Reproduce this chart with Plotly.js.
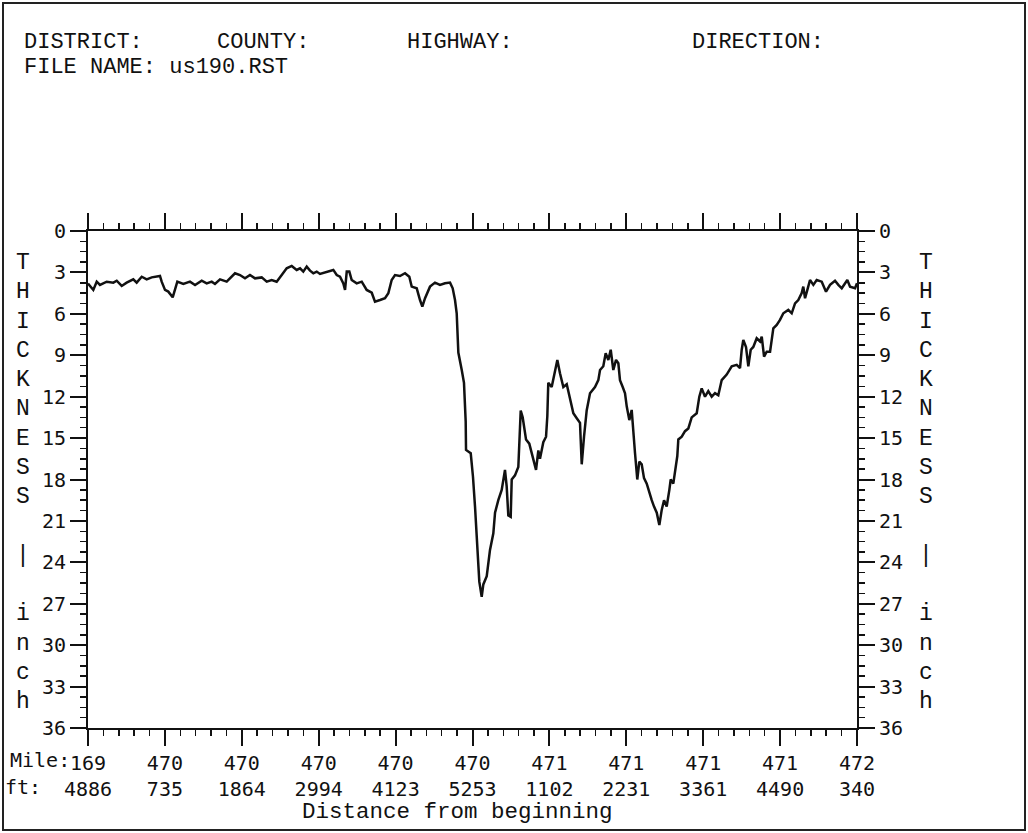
<!DOCTYPE html>
<html>
<head>
<meta charset="utf-8">
<script src="https://cdn.plot.ly/plotly-3.0.1.min.js"></script>
<style>
  html, body { margin:0; padding:0; background:#fff; }
  #chart { width:1028px; height:833px; }
</style>
</head>
<body>
<div id="chart"></div>
<script>
// ---- data ----
// distance from the beginning of the section, ft
const distanceFt = [
  0,78,128,176,275,372,422,495,568,665,
  715,789,862,936,1057,1082,1131,1179,1244,1278,
  1312,1400,1498,1572,1670,1743,1817,1865,1939,2037,
  2111,2159,2232,2306,2379,2453,2551,2625,2698,2771,
  2845,2918,2992,3065,3114,3162,3212,3261,3309,3359,
  3407,3506,3603,3653,3701,3750,3775,3800,3838,3873,
  3946,4020,4093,4167,4215,4289,4362,4411,4460,4509,
  4582,4656,4719,4754,4828,4876,4910,4950,5023,5096,
  5170,5243,5317,5356,5390,5415,5439,5489,5522,5547,
  5552,5621,5654,5684,5718,5747,5782,5806,5856,5904,
  5953,5978,6026,6076,6124,6149,6173,6208,6223,6271,
  6320,6345,6355,6384,6433,6481,6540,6580,6614,6638,
  6687,6727,6746,6760,6810,6834,6859,6893,6932,6981,
  7031,7079,7128,7178,7226,7236,7251,7285,7324,7373,
  7446,7495,7520,7568,7603,7642,7677,7715,7755,7789,
  7813,7853,7887,7912,7950,7985,8009,8034,8067,8097,
  8132,8166,8206,8244,8279,8313,8353,8391,8426,8460,
  8499,8538,8558,8596,8621,8655,8670,8720,8768,8817,
  8866,8940,8978,9013,9062,9110,9160,9209,9257,9307,
  9380,9454,9527,9576,9601,9624,9664,9698,9733,9771,
  9821,9870,9895,9929,9968,10017,10041,10065,10115,10163,
  10212,10285,10335,10384,10432,10482,10505,10531,10565,10604,
  10653,10702,10776,10839,10898,10971,11020,11070,11152,11192,
  11265,11294
];
// layer thickness, inch
const thicknessIn = [
  3.8,4.27,3.67,3.91,3.67,3.74,3.6,3.98,3.74,3.5,
  3.74,3.31,3.5,3.36,3.26,3.67,4.27,4.39,4.8,4.27,
  3.67,3.84,3.67,3.91,3.6,3.79,3.67,3.84,3.5,3.67,
  3.31,3.06,3.19,3.43,3.19,3.43,3.36,3.67,3.55,3.67,
  3.19,2.7,2.53,2.82,2.7,2.94,2.58,2.87,3.06,2.94,
  3.11,2.94,2.82,3.19,3.31,3.79,4.27,2.94,2.94,3.55,
  3.79,3.67,4.27,4.47,5.12,5.0,4.87,4.51,3.55,3.19,
  3.26,3.06,3.31,4.03,4.15,5.0,5.48,4.87,4.03,3.74,
  3.91,3.79,3.74,4.15,5.0,5.96,8.8,10.07,11.0,13.8,
  15.86,16.1,17.8,19.96,22.6,25.4,26.5,25.6,25.0,23.1,
  21.9,20.4,19.5,18.75,17.3,18.5,20.6,20.7,18.0,17.7,
  17.1,14.65,13.0,13.5,15.1,15.4,16.6,17.3,15.9,16.5,
  15.3,14.9,13.4,11.0,11.3,10.8,10.07,9.34,10.3,11.3,
  11.1,12.2,13.2,13.56,13.9,15.1,16.9,14.9,13.0,11.75,
  11.3,10.8,10.07,9.8,8.86,9.34,8.6,10.07,9.34,9.58,
  10.8,11.3,11.75,12.7,13.7,12.96,14.9,16.1,18.0,16.7,
  16.9,17.9,18.3,19.0,19.5,19.96,20.4,21.3,20.2,19.5,
  19.96,18.75,18.0,18.3,17.3,16.3,15.1,14.9,14.5,14.3,
  13.5,13.2,12.0,11.4,12.0,11.6,12.0,11.75,11.9,10.8,
  10.4,9.8,9.7,9.94,8.6,7.9,8.4,9.8,8.6,8.4,
  7.77,8.0,7.65,9.1,8.74,8.74,7.9,7.05,6.8,6.44,
  5.96,5.72,5.96,5.24,5.0,4.5,4.03,4.87,4.27,3.55,
  3.9,3.55,3.67,4.4,3.9,3.6,3.9,4.15,3.55,4.03,
  4.15,3.79
];
// x tick labels (two rows: mile, ft)
const mileLabels = ["169","470","470","470","470","470","471","471","471","471","472"];
const ftLabels   = ["4886","735","1864","2994","4123","5253","1102","2231","3361","4490","340"];
const tickSpacingFt = 1129.4;
const headerTexts = ["DISTRICT:", "COUNTY:", "HIGHWAY:", "DIRECTION:"];
const fileLine = "FILE NAME: us190.RST";
const yTitleLetters = ["T","H","I","C","K","N","E","S","S","","|","","i","n","c","h"];
const xTitle = "Distance from beginning";

// ---- geometry helpers (pixel -> paper) ----
const PL = 88, PR = 857, PT = 231, PB = 728;
const px = x => (x - PL) / (PR - PL);
const py = y => (PB - y) / (PB - PT);

const tickvals = mileLabels.map((_, i) => i * tickSpacingFt);
const ticktext = mileLabels.map((m, i) => m + "<br>" + ftLabels[i]);

const serif = "Liberation Mono, Courier New, monospace";
const mono = "DejaVu Sans Mono, monospace";

const annotations = [];
const headerX = [22, 215, 405, 690];
headerTexts.forEach((t, i) => annotations.push({
  xref:"paper", yref:"paper", x:px(headerX[i]), y:py(42), xanchor:"left", yanchor:"middle",
  text:t, showarrow:false, font:{family:serif, size:22, color:"#111"}
}));
annotations.push({xref:"paper", yref:"paper", x:px(22), y:py(68), xanchor:"left", yanchor:"middle",
  text:fileLine, showarrow:false, font:{family:serif, size:22, color:"#111"}});
yTitleLetters.forEach((L, i) => {
  if (!L) return;
  const yy = py(263 + i * 29.27);
  [22.5, 926].forEach(xx => annotations.push({
    xref:"paper", yref:"paper", x:px(xx), y:yy, xanchor:"center", yanchor:"middle",
    text:L, showarrow:false, font:{family:serif, size:23, color:"#111"}
  }));
});
annotations.push({xref:"paper", yref:"paper", x:px(72), y:py(760), xanchor:"right", yanchor:"middle",
  text:"Mile:", showarrow:false, font:{family:mono, size:20, color:"#111"}});
annotations.push({xref:"paper", yref:"paper", x:px(3), y:py(787), xanchor:"left", yanchor:"middle",
  text:"ft:", showarrow:false, font:{family:mono, size:20, color:"#111"}});
annotations.push({xref:"paper", yref:"paper", x:px(457), y:py(812), xanchor:"center", yanchor:"middle",
  text:xTitle, showarrow:false, font:{family:serif, size:22.5, color:"#111"}});

const yAxisCommon = {
  range:[36, 0], tick0:0, dtick:3, ticks:"outside", ticklen:16, tickwidth:2, tickcolor:"#111",
  showline:true, linewidth:2, linecolor:"#111", showgrid:false, zeroline:false,
  tickfont:{family:mono, size:20, color:"#111"}, fixedrange:true,
  minor:{tick0:0, dtick:0.75, ticks:"outside", ticklen:6, tickwidth:1.5, tickcolor:"#111", showgrid:false}
};

const traces = [
  {x:distanceFt, y:thicknessIn, type:"scatter", mode:"lines",
   line:{color:"#111", width:2.5}, hoverinfo:"skip"},
  {x:[0], y:[0], yaxis:"y2", type:"scatter", mode:"markers",
   marker:{opacity:0}, hoverinfo:"skip"}
];

const layout = {
  width:1028, height:833,
  margin:{l:PL, r:1028-PR, t:PT, b:833-PB, pad:0},
  paper_bgcolor:"#fff", plot_bgcolor:"#fff",
  showlegend:false,
  font:{family:mono, size:20, color:"#111"},
  xaxis:{
    range:[0, 10*tickSpacingFt], tickmode:"array", tickvals:tickvals, ticktext:ticktext,
    ticks:"outside", ticklen:16, tickwidth:2, tickcolor:"#111",
    showline:true, linewidth:2, linecolor:"#111", mirror:"ticks",
    showgrid:false, zeroline:false, tickangle:0,
    tickfont:{family:mono, size:20, color:"#111"}, fixedrange:true,
    minor:{tick0:0, dtick:tickSpacingFt/5, ticks:"outside", ticklen:6, tickwidth:1.5, tickcolor:"#111", showgrid:false}
  },
  yaxis:Object.assign({}, yAxisCommon, {side:"left"}),
  yaxis2:Object.assign({}, yAxisCommon, {side:"right", overlaying:"y"}),
  annotations:annotations,
  shapes:[{type:"rect", xref:"paper", yref:"paper",
    x0:px(3), x1:px(1025), y0:py(830), y1:py(3),
    line:{color:"#222", width:2}, fillcolor:"rgba(0,0,0,0)", layer:"below"}]
};

Plotly.newPlot("chart", traces, layout, {staticPlot:true, displayModeBar:false});
</script>
</body>
</html>
